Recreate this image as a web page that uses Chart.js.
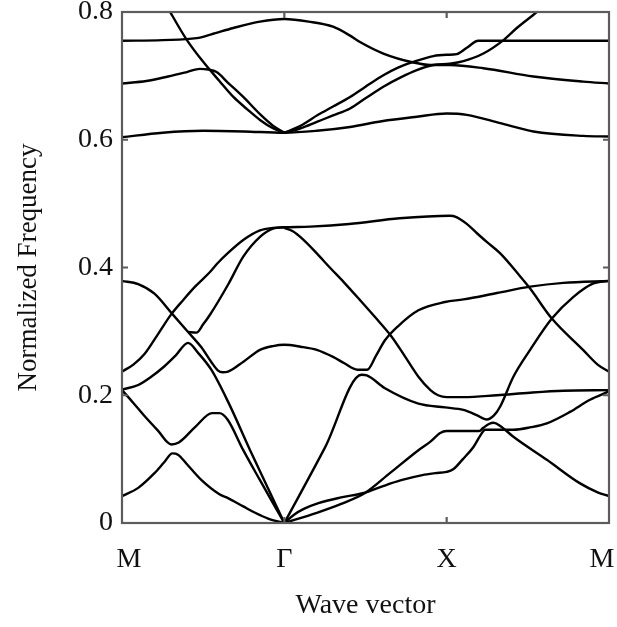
<!DOCTYPE html>
<html>
<head>
<meta charset="utf-8">
<script src="https://cdn.jsdelivr.net/npm/chart.js@4.4.0/dist/chart.umd.min.js"></script>
<style>
  html, body { margin: 0; padding: 0; background: #fff; }
  canvas { display: block; }
</style>
</head>
<body>
<canvas id="bandChart" width="617" height="627"></canvas>
<script>
// Titik simetri di sepanjang lintasan (M - Gamma - X - M)
const kTicks = [0, 1, 2, 3];
const kLabels = ['M', 'Γ', 'X', 'M'];
const fTicks = [0, 0.2, 0.4, 0.6, 0.8];

// Pita bawah, [k, frekuensi ternormalisasi]
const acoustic1MG = [[0,0.042],[0.1,0.055],[0.2,0.078],[0.26,0.095],[0.31,0.109],[0.345,0.107],[0.4,0.092],[0.49,0.067],[0.6,0.045],[0.653,0.039],[0.747,0.026],[0.82,0.016],[0.9,0.007],[1,0]];
const acoustic2MG = [[0,0.208],[0.07,0.188],[0.14,0.167],[0.22,0.145],[0.304,0.123],[0.35,0.126],[0.45,0.15],[0.555,0.172],[0.6,0.172],[0.65,0.162],[0.747,0.114],[0.85,0.067],[0.93,0.031],[1,0]];
const acoustic3MG = [[0,0.209],[0.1,0.216],[0.18,0.229],[0.26,0.245],[0.33,0.262],[0.407,0.282],[0.47,0.266],[0.55,0.240],[0.653,0.190],[0.8,0.108],[0.9,0.054],[1,0]];
const acoustic1GM = [[1,0],[1.06,0.013],[1.12,0.022],[1.21,0.031],[1.35,0.040],[1.49,0.047],[1.6,0.057],[1.72,0.067],[1.85,0.075],[1.93,0.078],[2.0,0.080],[2.04,0.084],[2.1,0.10],[2.165,0.119],[2.21,0.138],[2.237,0.146],[2.411,0.146],[2.52,0.150],[2.617,0.156],[2.76,0.174],[2.883,0.193],[3,0.206]];
const acoustic2GM = [[1,0],[1.2,0.016],[1.35,0.030],[1.497,0.047],[1.65,0.078],[1.826,0.114],[1.898,0.127],[1.96,0.141],[2.0,0.144],[2.1,0.144],[2.2,0.144],[2.226,0.149],[2.26,0.155],[2.29,0.157],[2.33,0.152],[2.411,0.135],[2.617,0.099],[2.822,0.062],[2.93,0.048],[3,0.042]];
const acoustic3GM = [[1,0],[1.25,0.118],[1.476,0.232],[1.508,0.231],[1.62,0.211],[1.826,0.187],[1.99,0.181],[2.103,0.177],[2.185,0.169],[2.247,0.162],[2.29,0.168],[2.329,0.182],[2.411,0.229],[2.514,0.271],[2.648,0.320],[2.781,0.354],[2.904,0.375],[3,0.379]];
const optic4 = [[0,0.379],[0.1,0.374],[0.2,0.359],[0.304,0.329],[0.407,0.299],[0.489,0.275],[0.55,0.252],[0.59,0.239],[0.62,0.236],[0.653,0.237],[0.75,0.253],[0.85,0.271],[0.93,0.277],[1,0.279],[1.1,0.276],[1.2,0.271],[1.3,0.26],[1.37,0.25],[1.45,0.240],[1.51,0.240],[1.565,0.262],[1.62,0.286],[1.7,0.308],[1.826,0.333],[1.99,0.346],[2.103,0.350],[2.309,0.360],[2.514,0.370],[2.719,0.376],[3,0.379]];
const optic5 = [[0,0.237],[0.07,0.248],[0.14,0.265],[0.22,0.295],[0.304,0.327],[0.38,0.35],[0.45,0.37],[0.542,0.393],[0.59,0.407],[0.65,0.422],[0.747,0.443],[0.85,0.458],[0.93,0.462],[1,0.463],[1.16,0.464],[1.4,0.468],[1.71,0.477],[2.02,0.481],[2.06,0.479],[2.12,0.469],[2.185,0.454],[2.247,0.440],[2.33,0.422],[2.453,0.386],[2.514,0.367],[2.648,0.320],[2.84,0.271],[2.93,0.248],[3,0.237]];
const optic6MG = [[0.407,0.299],[0.458,0.298],[0.5,0.311],[0.542,0.326],[0.653,0.373],[0.747,0.417],[0.85,0.448],[0.93,0.461],[1,0.463]];
const optic6GM = [[1,0.462],[1.05,0.457],[1.115,0.444],[1.2,0.422],[1.28,0.40],[1.37,0.376],[1.466,0.349],[1.56,0.322],[1.66,0.292],[1.74,0.262],[1.826,0.229],[1.9,0.208],[1.947,0.200],[2.0,0.197],[2.103,0.197],[2.309,0.200],[2.514,0.204],[2.719,0.207],[3,0.208]];

// Pita atas
const upper1 = [[0,0.604],[0.25,0.611],[0.5,0.614],[0.75,0.613],[1,0.611],[1.2,0.614],[1.405,0.620],[1.6,0.629],[1.816,0.636],[2.0,0.641],[2.124,0.639],[2.33,0.626],[2.534,0.613],[2.842,0.606],[3,0.605]];
const upper2MG = [[0,0.688],[0.15,0.692],[0.283,0.699],[0.40,0.706],[0.48,0.711],[0.53,0.710],[0.583,0.706],[0.65,0.69],[0.747,0.667],[0.85,0.64],[0.93,0.622],[1,0.611]];
const upper3MG = [[0.2,0.84],[0.296,0.80],[0.40,0.756],[0.5,0.722],[0.6,0.692],[0.686,0.667],[0.77,0.648],[0.85,0.631],[0.93,0.618],[1,0.611]];
const upper2GM = [[1,0.611],[1.1,0.618],[1.2,0.628],[1.3,0.638],[1.405,0.649],[1.5,0.665],[1.61,0.683],[1.72,0.698],[1.816,0.709],[1.918,0.717],[2.02,0.719],[2.103,0.723],[2.226,0.735],[2.35,0.756],[2.432,0.775],[2.555,0.80],[2.62,0.815]];
const upper3GM = [[1,0.611],[1.1,0.622],[1.208,0.639],[1.3,0.652],[1.405,0.667],[1.5,0.683],[1.61,0.701],[1.7,0.713],[1.795,0.722],[1.918,0.731],[2.0,0.733],[2.062,0.734],[2.124,0.744],[2.195,0.755],[2.4,0.755],[3,0.755]];
const upper4 = [[0,0.755],[0.25,0.756],[0.46,0.759],[0.55,0.765],[0.686,0.775],[0.85,0.785],[1,0.789],[1.15,0.785],[1.3,0.777],[1.405,0.763],[1.466,0.753],[1.61,0.735],[1.795,0.721],[1.9,0.717],[2.02,0.717],[2.226,0.712],[2.534,0.699],[2.842,0.691],[3,0.688]];

const bands = [
  acoustic1MG, acoustic2MG, acoustic3MG, acoustic1GM, acoustic2GM, acoustic3GM,
  optic4, optic5, optic6MG, optic6GM,
  upper1, upper2MG, upper3MG, upper2GM, upper3GM, upper4
];

const serif = "'Liberation Serif', 'Times New Roman', serif";

// Bingkai dan tanda tick ke dalam
const frameTicks = {
  id: 'frameTicks',
  afterDatasetsDraw(chart) {
    const {ctx, chartArea: a, scales: {x, y}} = chart;
    ctx.save();
    ctx.strokeStyle = '#5c5c5c';
    ctx.lineWidth = 2.2;
    ctx.beginPath();
    kTicks.slice(1, -1).forEach(v => {
      const px = x.getPixelForValue(v);
      ctx.moveTo(px, a.bottom); ctx.lineTo(px, a.bottom - 6);
      ctx.moveTo(px, a.top); ctx.lineTo(px, a.top + 6);
    });
    fTicks.slice(1, -1).forEach(v => {
      const py = y.getPixelForValue(v);
      ctx.moveTo(a.left, py); ctx.lineTo(a.left + 6, py);
      ctx.moveTo(a.right, py); ctx.lineTo(a.right - 6, py);
    });
    ctx.stroke();
    ctx.strokeRect(a.left, a.top, a.right - a.left, a.bottom - a.top);
    ctx.restore();
  }
};

const ctx = document.getElementById('bandChart').getContext('2d');

new Chart(ctx, {
  type: 'scatter',
  data: {
    datasets: bands.map(b => ({
      data: b.map(p => ({x: p[0], y: p[1]})),
      showLine: true,
      borderColor: '#000',
      borderWidth: 2.4,
      pointRadius: 0,
      fill: false,
      cubicInterpolationMode: 'monotone'
    }))
  },
  options: {
    responsive: false,
    animation: false,
    layout: { padding: { top: 12, right: 8, left: 0, bottom: 0 } },
    plugins: { legend: { display: false }, tooltip: { enabled: false } },
    scales: {
      x: {
        type: 'linear',
        min: 0,
        max: 3,
        afterBuildTicks: s => { s.ticks = kTicks.map(v => ({value: v})); },
        afterFit: s => { s.height = 104; s.paddingLeft = 0; s.paddingRight = 0; },
        grid: { display: false, drawTicks: false },
        border: { display: false },
        ticks: {
          padding: 20,
          color: '#111',
          font: { family: serif, size: 28 },
          maxRotation: 0,
          // label ujung sedikit digeser ke dalam seperti gambar asli
          callback: (v, i) => i === 0 ? '  ' + kLabels[i] : (i === kLabels.length - 1 ? kLabels[i] + '  ' : kLabels[i])
        },
        title: {
          display: true,
          text: 'Wave vector',
          color: '#111',
          font: { family: serif, size: 28 },
          padding: { top: 0, bottom: 5 }
        }
      },
      y: {
        min: 0,
        max: 0.8,
        afterBuildTicks: s => { s.ticks = fTicks.map(v => ({value: v})); },
        afterFit: s => { s.width = 122; s.paddingTop = 0; s.paddingBottom = 0; },
        grid: { display: false, drawTicks: false },
        border: { display: false },
        ticks: {
          padding: 9,
          color: '#111',
          font: { family: serif, size: 28 },
          callback: v => v === 0 ? '0' : v.toFixed(1)
        },
        title: {
          display: true,
          text: 'Normalized Frequency',
          color: '#111',
          font: { family: serif, size: 27 },
          padding: { top: 13, bottom: 0 }
        }
      }
    }
  },
  plugins: [frameTicks]
});
</script>
</body>
</html>
